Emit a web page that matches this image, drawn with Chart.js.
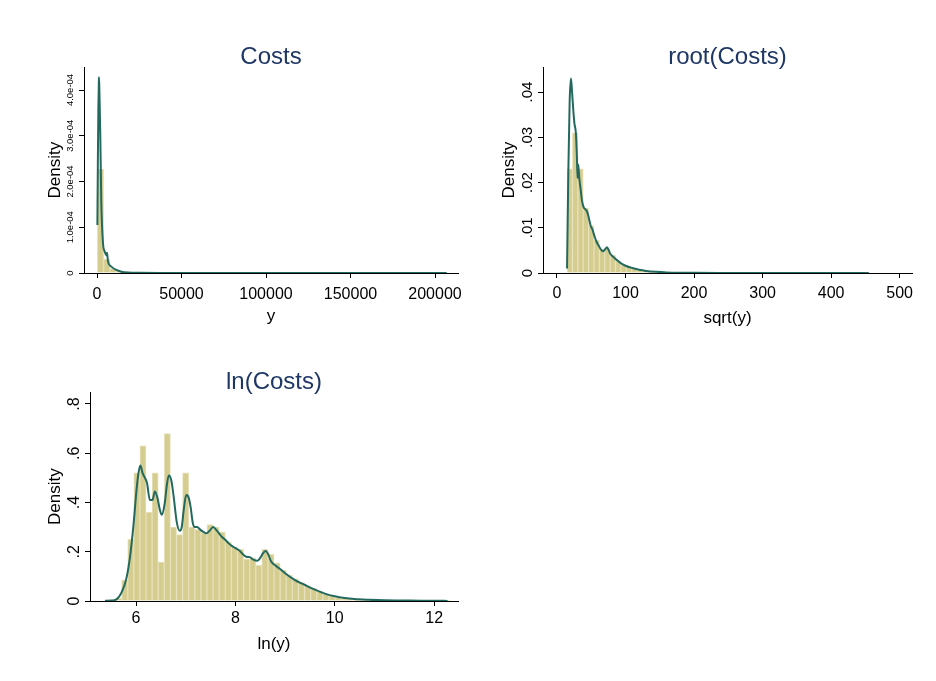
<!DOCTYPE html>
<html>
<head>
<meta charset="utf-8">
<title>Costs histograms</title>
<script src="https://cdn.jsdelivr.net/npm/chart.js@4.4.0/dist/chart.umd.min.js"></script>
<style>
  body { margin: 0; background: #fff; }
  #wrap { position: relative; width: 936px; height: 681px; background: #fff; }
  #wrap canvas { position: absolute; }
</style>
</head>
<body>
<div id="wrap">
  <canvas id="costs" width="470" height="286" style="left:0px;top:47px"></canvas>
  <canvas id="root" width="454" height="286" style="left:470px;top:47px"></canvas>
  <canvas id="lncosts" width="470" height="289" style="left:0px;top:372px"></canvas>
</div>

<script>
// ---- data ----

// Costs (y): 56 bins
const costsBinStart = 216;
const costsBinWidth = 3690;
const costsHeights = [2.27e-4, 3.0e-5, 9.5e-6, 4.6e-6, 2.3e-6, 1.2e-6, 6.5e-7, 4e-7, 2.6e-7, 2e-7,
  1.5e-7, 1.2e-7, 1e-7, 8e-8, 6e-8, 5e-8, 4e-8, 3e-8, 3e-8, 2e-8,
  2e-8, 2e-8, 1e-8, 1e-8, 1e-8, 1e-8, 1e-8, 1e-8, 1e-8, 1e-8,
  1e-8, 1e-8, 1e-8, 1e-8, 1e-8, 1e-8, 1e-8, 1e-8, 1e-8, 1e-8,
  1e-8, 1e-8, 1e-8, 1e-8, 1e-8, 1e-8, 1e-8, 1e-8, 1e-8, 1e-8,
  1e-8, 1e-8, 1e-8, 1e-8, 1e-8, 1e-8];
const costsKdeX = [216, 500, 800, 1100, 1183, 1400, 1953, 2544, 3550, 4556, 5503, 5917, 6509, 8461, 11420, 14378, 18343, 25000, 40000, 80000, 206900];
const costsKdeY = [1.05e-4, 2.4e-4, 3.6e-4, 4.2e-4, 4.28e-4, 4.0e-4, 2.98e-4, 1.53e-4, 6.5e-5, 4.7e-5, 3.9e-5, 4.4e-5, 2.5e-5, 1.4e-5, 6.6e-6, 2.9e-6, 1e-6, 3e-7, 5e-8, 1e-8, 0];
const costsXTicks = [0, 50000, 100000, 150000, 200000];
const costsYTicks = [0, 1e-4, 2e-4, 3e-4, 4e-4];
const costsYLabels = ['0', '1.0e-04', '2.0e-04', '3.0e-04', '4.0e-04'];

// root(Costs): sqrt(y), 56 bins
const rootBinStart = 14.7;
const rootBinWidth = 7.86;
const rootHeights = [0.023, 0.031, 0.023, 0.0143, 0.0105, 0.0072, 0.0052, 0.0054, 0.0039, 0.0025,
  0.0018, 0.0014, 0.0011, 0.00083, 0.00062, 0.00049, 0.00036, 0.00027, 0.0002, 0.00016,
  0.00012, 0.0001, 0.00008, 0.00006, 0.00005, 0.00004, 0.000035, 0.00003, 0.000025, 0.00002,
  0.000018, 0.000015, 0.000013, 0.000011, 0.00001, 0.000009, 0.000008, 0.000007, 0.000006, 0.000005,
  0.000005, 0.000004, 0.000004, 0.000003, 0.000003, 0.000003, 0.000002, 0.000002, 0.000002, 0.000002,
  0.000001, 0.000001, 0.000001, 0.000001, 0.000001, 0.000001];
const rootKdeX = [14.7, 16.5, 18.5, 20.4, 22.0, 23.8, 25.5, 27.5, 29.0, 30.0, 31.0, 32.5, 34.5, 36.5, 39, 42, 44, 46, 49, 52,
  55, 58, 61, 64, 67, 70, 73, 75.5, 78, 82, 87, 93, 100, 110, 120, 130, 145, 160, 180, 200, 250, 300, 455];
const rootKdeY = [0.001, 0.022, 0.038, 0.043, 0.040, 0.036, 0.033, 0.031, 0.026, 0.021, 0.024, 0.021, 0.0185, 0.016, 0.0145, 0.014, 0.0135, 0.0125, 0.0105, 0.0095,
  0.008, 0.0068, 0.006, 0.0052, 0.0048, 0.0052, 0.0057, 0.005, 0.0042, 0.0036, 0.0029, 0.0022, 0.0016, 0.0011, 0.0007, 0.00045, 0.00025, 0.00013, 0.00006, 0.00003, 0.00001, 0.000005, 0];
const rootXTicks = [0, 100, 200, 300, 400, 500];
const rootYTicks = [0, 0.01, 0.02, 0.03, 0.04];
const rootYLabels = ['0', '.01', '.02', '.03', '.04'];

// ln(Costs): ln(y), 56 bins
const lnBinStart = 5.465;
const lnBinWidth = 0.1227;
const lnHeights = [0.003, 0.012,
  0.085, 0.25, 0.52, 0.63, 0.36, 0.52, 0.158, 0.68, 0.30, 0.27, 0.52, 0.30,
  0.29, 0.275, 0.31, 0.30, 0.28, 0.24, 0.22, 0.21, 0.17, 0.175, 0.145, 0.21,
  0.19, 0.155, 0.125, 0.105, 0.09, 0.075, 0.062, 0.05, 0.038, 0.028, 0.02, 0.014,
  0.01, 0.007, 0.005, 0.004, 0.003, 0.002, 0.002, 0.0015, 0.001, 0.001, 0.0008, 0.0008, 0.0006, 0.0005, 0.0004, 0.0003,
  0.0003, 0.0002];
const lnKdeX = [5.375, 5.5, 5.6, 5.71, 5.81, 5.88, 5.95, 6.01, 6.05, 6.09, 6.13, 6.18, 6.22, 6.28, 6.33, 6.38, 6.43, 6.48, 6.52, 6.58,
  6.62, 6.66, 6.71, 6.76, 6.82, 6.88, 6.92, 6.96, 7.01, 7.06, 7.10, 7.14, 7.18, 7.23, 7.29, 7.36, 7.42, 7.48, 7.55, 7.61,
  7.67, 7.73, 7.79, 7.86, 7.92, 8.0, 8.08, 8.15, 8.22, 8.29, 8.36, 8.44, 8.5, 8.56, 8.61, 8.66, 8.72, 8.8, 8.9, 9.0,
  9.2, 9.4, 9.6, 9.8, 10.0, 10.2, 10.4, 10.7, 11.0, 11.5, 12.0, 12.27];
const lnKdeY = [0.001, 0.002, 0.006, 0.035, 0.095, 0.18, 0.31, 0.45, 0.52, 0.55, 0.52, 0.50, 0.48, 0.41, 0.41, 0.445, 0.42, 0.37, 0.35, 0.40,
  0.47, 0.51, 0.49, 0.42, 0.32, 0.285, 0.30, 0.37, 0.43, 0.42, 0.38, 0.32, 0.30, 0.30, 0.29, 0.28, 0.275, 0.285, 0.30, 0.29,
  0.275, 0.26, 0.25, 0.235, 0.225, 0.215, 0.205, 0.19, 0.18, 0.178, 0.168, 0.163, 0.175, 0.195, 0.203, 0.19, 0.16, 0.145, 0.13, 0.113,
  0.085, 0.065, 0.046, 0.03, 0.019, 0.012, 0.008, 0.005, 0.003, 0.002, 0.001, 0.0005];
const lnXTicks = [6, 8, 10, 12];
const lnYTicks = [0, 0.2, 0.4, 0.6, 0.8];
const lnYLabels = ['0', '.2', '.4', '.6', '.8'];

// ---- styling ----
const FAMILY = '"Liberation Sans", Arial, sans-serif';
const BAR_FILL = '#d5cc8f';
const BAR_EDGE = '#e6e0b8';
const KDE_LINE = '#23695d';
const TITLE_COL = '#1e3765';
const TICK_LEN = 5;

function textWidth(labels, size, family) {
  const ctx = document.createElement('canvas').getContext('2d');
  ctx.font = size + 'px ' + family;
  return Math.max(...labels.map(l => ctx.measureText(l).width));
}

function drawPanel(id, p) {
  const bars = p.heights.map((h, i) => ({x: p.binStart + p.binWidth * (i + 0.5), y: h}));
  const kde = p.kdeX.map((x, i) => ({x: x, y: p.kdeY[i]}));
  const yPad = p.yLabelOffset - TICK_LEN - textWidth(p.yLabels, p.yLabelSize, p.yLabelFamily) / 2;

  new Chart(document.getElementById(id), {
    type: 'bar',
    data: {
      datasets: [
        {type: 'line', data: kde, borderColor: KDE_LINE, borderWidth: 2, pointRadius: 0,
         cubicInterpolationMode: 'monotone', fill: false, order: 0},
        {type: 'bar', data: bars, backgroundColor: BAR_FILL, borderColor: BAR_EDGE, borderWidth: 1,
         barPercentage: 1, categoryPercentage: 1, order: 1}
      ]
    },
    options: {
      responsive: false,
      animation: false,
      devicePixelRatio: 1,
      layout: {padding: {left: 0, right: 12, top: 0, bottom: 0}},
      plugins: {
        legend: {display: false},
        tooltip: {enabled: false},
        title: {display: true, text: p.title, color: TITLE_COL, fullSize: false, padding: 0,
                font: {family: FAMILY, size: 24, weight: 'normal', lineHeight: 0.85}}
      },
      scales: {
        x: {
          type: 'linear', min: p.xMin, max: p.xMax, offset: false,
          afterBuildTicks: s => { s.ticks = p.xTicks.map(v => ({value: v})); },
          afterFit: s => { s.height = 60; },
          ticks: {autoSkip: false, maxRotation: 0, color: '#000', padding: p.xLabelPad,
                  font: {family: FAMILY, size: 16},
                  callback: v => String(v)},
          grid: {display: true, drawOnChartArea: false, drawTicks: true, tickLength: TICK_LEN, color: '#000', offset: false},
          border: {display: true, color: '#000', width: 1},
          title: {display: true, text: p.xTitle, color: '#000', font: {family: FAMILY, size: 17},
                  padding: {top: 0, bottom: p.xTitlePad}}
        },
        y: {
          type: 'linear', min: 0, max: p.yMax,
          afterBuildTicks: s => { s.ticks = p.yTicks.map(v => ({value: v})); },
          afterFit: s => { s.width = p.yScaleWidth; },
          ticks: {minRotation: 90, maxRotation: 90, crossAlign: 'center', padding: yPad, color: '#000',
                  font: {family: p.yLabelFamily, size: p.yLabelSize},
                  callback: v => p.yLabels[p.yTicks.findIndex(t => Math.abs(t - v) < 1e-12)]},
          grid: {display: true, drawOnChartArea: false, drawTicks: true, tickLength: TICK_LEN, color: '#000'},
          border: {display: true, color: '#000', width: 1},
          title: {display: true, text: 'Density', color: '#000', font: {family: FAMILY, size: 17},
                  padding: {top: p.yTitlePad, bottom: 0}}
        }
      }
    }
  });
}

drawPanel('costs', {
  title: 'Costs', xTitle: 'y',
  binStart: costsBinStart, binWidth: costsBinWidth, heights: costsHeights,
  kdeX: costsKdeX, kdeY: costsKdeY,
  xMin: -7700, xMax: 213600, yMax: 4.494e-4,
  xTicks: costsXTicks, yTicks: costsYTicks, yLabels: costsYLabels,
  yLabelFamily: '"Liberation Sans Narrow", ' + FAMILY, yLabelSize: 9.5, yLabelOffset: 14,
  yScaleWidth: 84, yTitlePad: 44.8, xLabelPad: 7.4, xTitlePad: 6.8
});

drawPanel('root', {
  title: 'root(Costs)', xTitle: 'sqrt(y)',
  binStart: rootBinStart, binWidth: rootBinWidth, heights: rootHeights,
  kdeX: rootKdeX, kdeY: rootKdeY,
  xMin: -20.4, xMax: 518, yMax: 0.04544,
  xTicks: rootXTicks, yTicks: rootYTicks, yLabels: rootYLabels,
  yLabelFamily: FAMILY, yLabelSize: 15, yLabelOffset: 15.5,
  yScaleWidth: 73, yTitlePad: 28.8, xLabelPad: 6.4, xTitlePad: 4.8
});

drawPanel('lncosts', {
  title: 'ln(Costs)', xTitle: 'ln(y)',
  binStart: lnBinStart, binWidth: lnBinWidth, heights: lnHeights,
  kdeX: lnKdeX, kdeY: lnKdeY,
  xMin: 5.074, xMax: 12.48, yMax: 0.847,
  xTicks: lnXTicks, yTicks: lnYTicks, yLabels: lnYLabels,
  yLabelFamily: FAMILY, yLabelSize: 16, yLabelOffset: 15,
  yScaleWidth: 90, yTitlePad: 44.8, xLabelPad: 3.4, xTitlePad: 6.8
});
</script>
</body>
</html>
